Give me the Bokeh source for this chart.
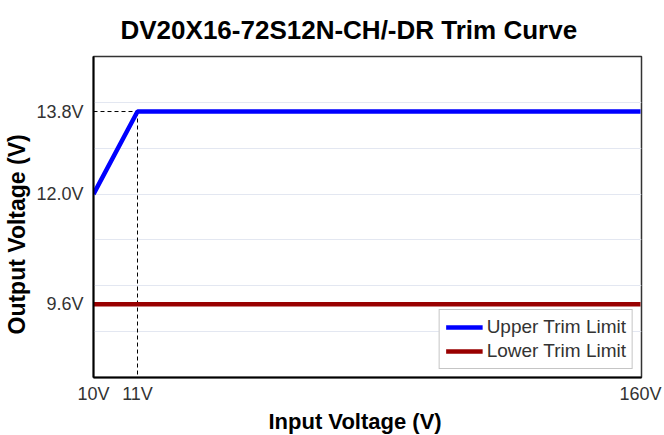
import numpy as np
from bokeh.plotting import figure
from bokeh.models import Range1d, FixedTicker, Legend, LegendItem, Title
from bokeh.embed import file_html
from bokeh.resources import INLINE

# ---- data ----
input_v = [10, 11, 160]
upper_v = [12.0, 13.8, 13.8]
lower_input = [10, 160]
lower_v = [9.6, 9.6]
x_tick_values = [10, 11, 160]
x_tick_labels = ["10V", "11V", "160V"]
y_tick_values = [9.6, 12.0, 13.8]
y_tick_labels = ["9.6V", "12.0V", "13.8V"]
y_grid_values = [8, 9, 10, 11, 12, 13, 14, 15]
title_text = "DV20X16-72S12N-CH/-DR Trim Curve"
x_label = "Input Voltage (V)"
y_label = "Output Voltage (V)"

# ---- broken (piecewise-linear) x scale ----
scale_in = [10, 11, 160]
scale_out = [0, 44, 547]


def xs(v):
    return list(np.interp(v, scale_in, scale_out))


FONT = "Liberation Sans"

p = figure(width=664, height=435, output_backend="svg", toolbar_location=None,
           x_range=Range1d(0, 548), y_range=Range1d(8, 15),
           min_border_left=93, min_border_right=23, min_border_top=55, min_border_bottom=58)
p.background_fill_color = "white"
p.border_fill_color = "white"
p.outline_line_color = "#333333"
p.outline_line_width = 1.5

# axes
for ax in (p.xaxis[0], p.yaxis[0]):
    ax.axis_line_color = "black"
    ax.axis_line_width = 2
    ax.major_tick_line_color = None
    ax.minor_tick_line_color = None
    ax.major_label_text_font = FONT
    ax.major_label_text_font_size = "18px"
    ax.major_label_text_color = "#333333"
p.yaxis[0].major_label_standoff = 4
p.xaxis[0].major_label_standoff = 0

p.xaxis[0].ticker = FixedTicker(ticks=xs(x_tick_values))
p.xaxis[0].major_label_overrides = {float(k): v for k, v in zip(xs(x_tick_values), x_tick_labels)}
p.yaxis[0].ticker = FixedTicker(ticks=y_tick_values, minor_ticks=y_grid_values)
p.yaxis[0].major_label_overrides = {k: v for k, v in zip(y_tick_values, y_tick_labels)}

p.xgrid.grid_line_color = None
p.ygrid.ticker = FixedTicker(ticks=y_grid_values)
p.ygrid.grid_line_color = "#e3e7f1"
p.ygrid.grid_line_width = 1

# dashed guides to the knee point
knee_x = input_v[1]
knee_y = upper_v[1]
p.segment(x0=xs([input_v[0]]), y0=[knee_y], x1=xs([knee_x]), y1=[knee_y],
          line_color="black", line_width=1, line_dash="4 3")
p.segment(x0=xs([knee_x]), y0=[knee_y], x1=xs([knee_x]), y1=[p.y_range.start],
          line_color="black", line_width=1, line_dash="4 3")

r_up = p.line(xs(input_v), upper_v, line_color="#0000ff", line_width=4.5)
r_lo = p.line(xs(lower_input), lower_v, line_color="#990000", line_width=4.5)

legend = Legend(items=[LegendItem(label="Upper Trim Limit", renderers=[r_up]),
                       LegendItem(label="Lower Trim Limit", renderers=[r_lo])],
                location="bottom_right")
legend.label_text_font = FONT
legend.label_text_font_size = "19px"
legend.label_text_color = "#333333"
legend.glyph_width = 37
legend.glyph_height = 20
legend.label_height = 20
legend.label_standoff = 4
legend.padding = 6
legend.spacing = 2
legend.margin = 8
legend.border_line_color = "#8c8c8c"
legend.border_line_width = 1.5
legend.background_fill_color = "white"
legend.background_fill_alpha = 1
p.add_layout(legend, "center")

t = Title(text=title_text, text_font=FONT, text_font_size="26px", text_font_style="bold",
          text_color="black", align="left", offset=27, vertical_align="bottom", standoff=24)
p.add_layout(t, "above")

tx = Title(text=x_label, text_font=FONT, text_font_size="22px", text_font_style="bold",
           text_color="black", align="left", offset=175, vertical_align="bottom", standoff=0)
p.add_layout(tx, "below")

ty = Title(text=y_label, text_font=FONT, text_font_size="23px", text_font_style="bold",
           text_color="black", align="left", offset=43, vertical_align="middle", standoff=5)
p.add_layout(ty, "left")

open("out.html", "w").write(file_html(p, INLINE))
